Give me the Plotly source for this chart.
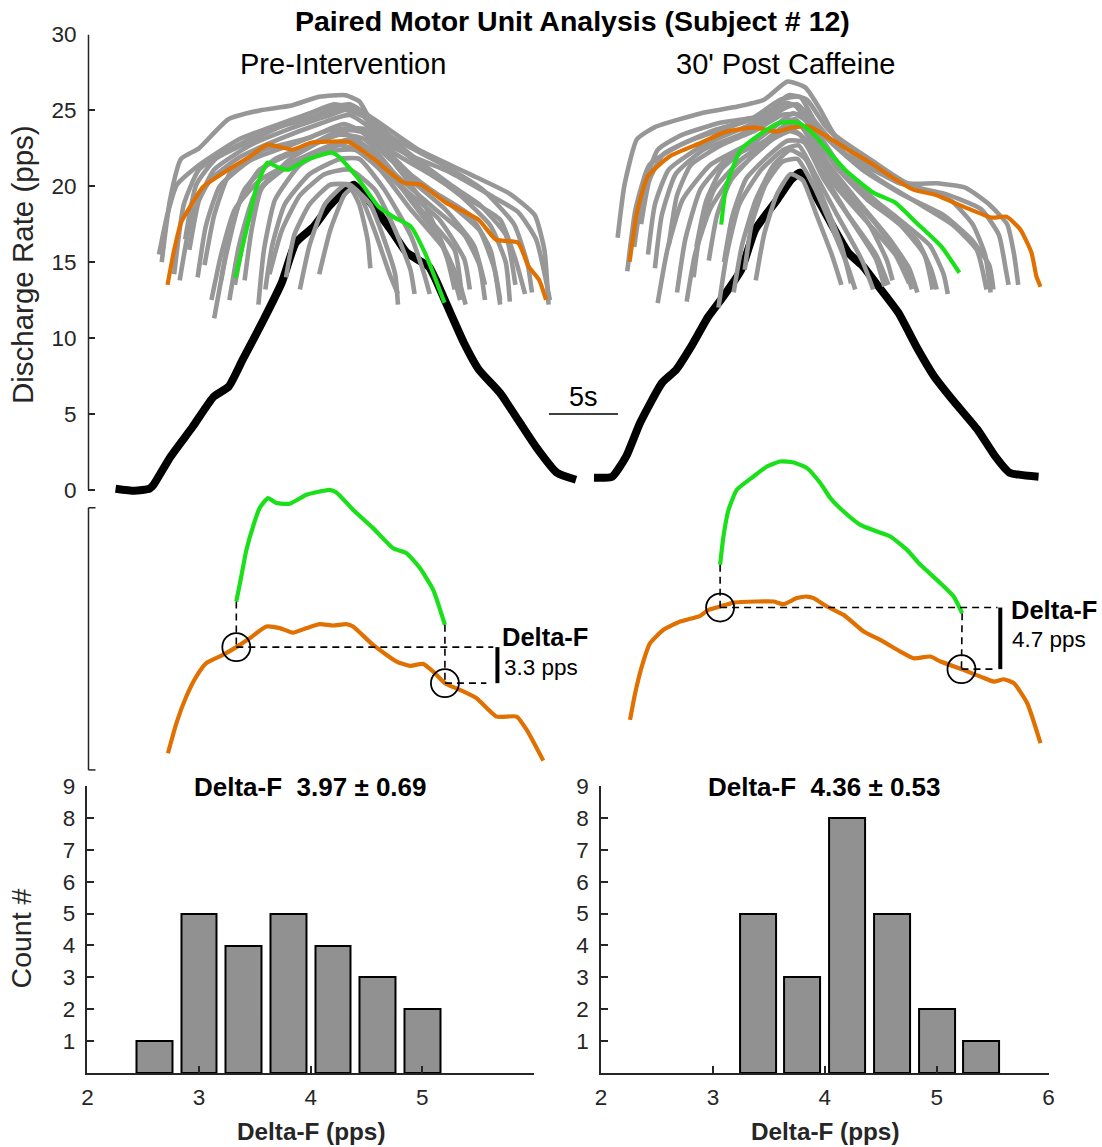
import plotly.graph_objects as go

FONT = "Liberation Sans, Arial, sans-serif"
INK = "#262626"
GRAY = "#979797"
ORANGE = "#E07000"
GREEN = "#19E019"
BAR_FILL = "#919191"

# ---------------- Top panel data: time (s) vs discharge rate (pps) ----------------
PRE_TORQUE_T = [1.96, 3.33, 4.42, 4.71, 5.94, 7.54, 9.06, 10.14, 11.16, 12.68, 13.99, 15.0, 16.3, 17.39,
                18.4, 19.2, 20.43, 22.03, 23.04, 24.64, 25.14, 25.87, 27.17, 28.26, 29.78, 31.09, 32.39,
                33.91, 35.29]
PRE_TORQUE_V = [0.07, -0.07, 0.07, 0.33, 2.18, 4.15, 6.13, 6.79, 8.57, 11.21, 13.65, 16.28, 17.34, 18.66,
                19.58, 20.1, 18.92, 16.94, 15.62, 14.7, 13.84, 12.33, 9.69, 7.91, 6.39, 4.61, 2.83,
                1.12, 0.66]
POST_TORQUE_T = [36.59, 37.9, 38.91, 39.93, 41.52, 42.54, 43.62, 44.86, 45.94, 47.25, 48.26, 49.86, 50.87,
                 51.52, 52.39, 53.48, 55.0, 56.09, 56.81, 58.62, 59.93, 61.23, 62.54, 64.35, 65.65, 66.67,
                 68.77]
POST_TORQUE_V = [0.79, 0.86, 2.18, 4.42, 7.05, 7.91, 9.43, 11.4, 12.72, 14.5, 17.14, 19.12, 20.44,
                 20.9, 19.78, 18.0, 15.62, 14.7, 13.84, 11.67, 9.43, 7.45, 5.93, 3.96, 2.18, 1.12,
                 0.86]

PRE_TEST_T = [5.72, 6.2, 6.7, 7.54, 8.3, 10.12, 11.67, 12.97, 14.78, 16.09, 17.36, 18.77, 19.42, 20.72,
              22.8, 24.06, 25.87, 28.23, 29.49, 31.09, 31.86, 32.61, 33.12]
PRE_TEST_V = [13.5, 15.8, 17.6, 18.92, 19.97, 21.09, 21.95, 22.74, 22.41, 22.87, 22.94, 22.94, 22.61, 21.75,
              20.24, 20.11, 18.92, 17.8, 16.48, 16.28, 14.7, 13.84, 12.52]
PRE_REF_T = [10.63, 11.38, 12.17, 12.97, 13.74, 14.49, 15.8, 17.61, 18.12, 19.42, 20.99, 22.03, 23.33,
             24.35, 25.14, 25.77]
PRE_REF_V = [13.96, 16.94, 19.97, 21.56, 21.23, 21.09, 21.75, 22.21, 21.95, 20.63, 18.66, 18.0, 17.34,
             15.62, 13.84, 12.33]
POST_TEST_T = [39.17, 39.7, 40.47, 42.03, 44.35, 46.16, 48.26, 49.83, 50.87, 52.17, 53.46, 55.0, 56.57,
               58.12, 59.7, 61.23, 63.33, 65.41, 66.45, 67.46, 68.26, 68.62, 68.91]
POST_TEST_V = [15.03, 18.26, 20.63, 21.95, 22.87, 23.6, 23.86, 23.6, 23.86, 23.93, 23.27, 22.41, 21.56,
               20.63, 19.78, 19.45, 18.66, 17.93, 18.0, 17.14, 15.62, 14.04, 13.38]
POST_REF_T = [45.8, 46.16, 47.22, 48.77, 50.07, 51.38, 52.39, 53.46, 54.76, 56.81, 58.41, 59.93, 61.74, 63.04]
POST_REF_V = [17.47, 19.97, 22.41, 23.53, 24.19, 24.19, 23.53, 22.41, 21.09, 19.58, 18.92, 17.6, 16.02, 14.3]

# other motor units (time s, rate pps)
PRE_MU_01 = [(5.3, 15.0), (5.9, 19.1), (6.7, 21.8), (8.0, 22.5), (10.1, 24.4), (12.4, 25.0), (14.6, 25.3), (16.7, 25.9), (18.6, 26.0), (19.6, 25.6), (20.5, 24.2), (22.0, 22.6), (23.6, 21.9), (26.2, 20.9), (29.3, 19.3), (31.1, 18.3), (32.4, 16.5), (33.4, 12.5)]
PRE_MU_02 = [(6.2, 14.2), (6.9, 18.8), (8.0, 21.1), (10.2, 22.4), (13.1, 23.7), (16.0, 24.5), (18.2, 25.1), (19.9, 24.6), (21.8, 22.4), (24.7, 20.8), (27.6, 19.1), (29.8, 17.8), (30.9, 15.2), (31.6, 12.9)]
PRE_MU_03 = [(6.6, 13.8), (7.5, 18.1), (8.8, 20.4), (10.9, 21.9), (13.8, 23.1), (16.7, 24.1), (18.9, 24.7), (21.1, 23.4), (24.0, 21.4), (26.9, 19.4), (29.1, 17.4), (30.2, 15.0), (30.5, 12.4)]
PRE_MU_04 = [(7.9, 14.0), (8.5, 17.4), (9.5, 20.0), (11.7, 21.7), (14.6, 22.7), (17.5, 23.7), (19.6, 23.7), (21.8, 21.8), (24.7, 19.8), (27.6, 18.1), (29.1, 15.8), (29.8, 12.2)]
PRE_MU_05 = [(9.1, 11.3), (9.9, 15.2), (11.0, 19.1), (12.4, 21.1), (15.3, 22.4), (18.2, 23.4), (20.0, 23.1), (22.2, 20.8), (24.7, 18.8), (27.2, 16.8), (28.3, 14.8), (28.7, 12.5)]
PRE_MU_06 = [(10.2, 12.5), (10.9, 16.1), (12.0, 19.4), (13.8, 21.1), (16.7, 22.4), (18.9, 23.1), (20.7, 22.1), (22.9, 19.8), (25.4, 17.8), (27.2, 15.2), (27.6, 13.2)]
PRE_MU_07 = [(12.3, 12.2), (12.7, 15.8), (13.5, 19.1), (15.3, 21.4), (17.5, 22.5), (19.3, 23.1), (21.1, 21.8), (23.3, 19.1), (25.4, 16.5), (26.5, 13.8), (26.9, 12.5)]
PRE_MU_08 = [(11.3, 13.8), (11.8, 17.1), (12.5, 19.8), (14.6, 21.8), (17.1, 23.1), (18.9, 23.7), (20.4, 23.4), (22.5, 21.1), (24.3, 18.8), (25.8, 15.8), (26.5, 13.2)]
PRE_MU_09 = [(14.3, 14.0), (14.9, 16.8), (16.0, 18.8), (17.5, 20.1), (18.9, 20.1), (20.4, 18.8), (21.4, 16.5), (22.2, 14.2), (22.4, 12.2)]
PRE_MU_10 = [(15.3, 13.2), (16.0, 16.1), (17.1, 18.8), (18.6, 20.1), (19.6, 19.5), (20.7, 17.1), (21.8, 14.2), (22.4, 12.9)]
PRE_MU_11 = [(16.7, 14.2), (17.5, 17.1), (18.5, 19.4), (19.0, 19.8), (19.6, 18.8), (20.2, 16.5), (20.4, 14.6)]
PRE_MU_12 = [(13.1, 14.2), (14.0, 17.1), (15.3, 19.4), (17.1, 20.8), (18.9, 21.1), (20.7, 19.8), (22.2, 17.1), (23.3, 14.5), (23.6, 12.9)]
PRE_MU_13 = [(7.3, 15.8), (8.0, 19.1), (9.1, 21.1), (11.7, 22.7), (14.6, 23.8), (17.5, 24.7), (19.3, 25.2), (20.7, 24.1), (23.3, 22.1), (26.2, 20.1), (28.3, 18.8), (30.2, 16.8), (30.9, 13.5)]
PRE_MU_14 = [(8.4, 14.8), (9.1, 18.1), (10.2, 20.8), (12.7, 22.4), (16.0, 23.2), (18.5, 24.1), (20.7, 23.1), (23.3, 20.8), (26.2, 18.8), (28.3, 17.1), (29.4, 14.5), (29.8, 12.5)]
PRE_MU_15 = [(9.6, 13.8), (10.2, 16.8), (11.3, 19.8), (13.5, 21.8), (16.0, 22.7), (18.5, 23.8), (20.4, 23.7), (22.5, 21.1), (25.8, 18.5), (27.9, 16.1), (28.7, 13.5)]
PRE_MU_16 = [(10.6, 13.5), (11.3, 16.8), (12.4, 19.8), (14.6, 21.4), (17.5, 22.3), (19.3, 22.4), (21.1, 21.1), (23.3, 18.5), (25.8, 15.8), (26.9, 13.5), (27.3, 12.2)]
PRE_MU_17 = [(5.1, 15.5), (5.7, 18.1), (6.4, 20.1), (8.0, 21.4), (10.9, 23.1), (13.8, 24.1), (16.7, 25.0), (18.9, 25.4), (20.7, 24.4), (23.9, 22.4), (27.6, 20.8), (30.5, 19.5), (32.3, 18.1), (33.0, 15.8), (33.3, 12.2)]
PRE_MU_18 = [(12.8, 13.2), (13.3, 16.1), (14.2, 18.8), (16.0, 20.8), (18.2, 21.8), (19.6, 21.8), (21.4, 19.8), (23.3, 16.8), (24.3, 14.2), (24.7, 12.9)]
PRE_MU_19 = [(7.0, 16.5), (7.8, 20.1), (9.2, 21.8), (12.0, 23.1), (15.0, 24.4), (17.8, 25.4), (19.8, 24.9), (22.0, 23.2), (25.5, 21.5), (28.5, 19.8), (30.8, 17.5), (31.8, 14.8), (32.1, 13.0)]
PRE_MU_20 = [(8.9, 12.5), (9.6, 15.5), (10.6, 18.5), (12.4, 20.4), (15.3, 21.8), (18.2, 22.7), (19.9, 22.2), (22.0, 20.5), (24.5, 18.0), (26.5, 15.8), (27.0, 13.0)]

POST_MU_01 = [(38.3, 16.6), (38.8, 20.1), (39.7, 23.1), (41.0, 23.9), (44.3, 24.8), (46.7, 25.2), (48.9, 25.7), (50.6, 26.9), (51.9, 26.5), (53.0, 25.0), (54.0, 23.4), (56.7, 21.7), (59.3, 20.2), (61.4, 20.2), (63.5, 19.9), (65.2, 18.8), (66.5, 17.5), (67.0, 15.5), (67.3, 13.5)]
POST_MU_02 = [(39.0, 14.4), (39.6, 18.5), (40.6, 21.4), (42.8, 22.7), (45.3, 23.7), (47.9, 24.4), (50.1, 25.7), (51.5, 25.9), (52.5, 24.4), (54.4, 22.4), (57.3, 20.4), (60.2, 18.8), (62.5, 17.5), (64.3, 15.8), (65.0, 13.2)]
POST_MU_03 = [(41.0, 14.6), (41.5, 18.1), (42.5, 20.8), (44.5, 22.4), (47.2, 23.4), (49.6, 24.7), (51.0, 25.4), (52.2, 24.1), (54.0, 21.4), (56.4, 19.1), (58.7, 17.5), (60.5, 15.5), (61.1, 13.2)]
POST_MU_04 = [(41.2, 12.3), (41.9, 15.8), (43.0, 19.1), (45.0, 21.4), (47.6, 22.7), (49.8, 24.1), (51.2, 24.4), (52.7, 22.4), (54.8, 19.8), (57.0, 17.5), (58.9, 15.2), (59.6, 13.2)]
POST_MU_05 = [(43.3, 12.4), (43.9, 15.5), (45.0, 18.5), (46.7, 20.8), (48.6, 22.4), (50.3, 23.7), (51.5, 23.4), (53.0, 21.1), (55.0, 18.1), (57.0, 15.5), (57.9, 13.5)]
POST_MU_06 = [(46.7, 13.0), (47.3, 16.1), (48.3, 19.1), (49.6, 21.4), (50.8, 22.4), (51.9, 21.8), (53.2, 19.1), (54.5, 16.1), (55.2, 13.6)]
POST_MU_07 = [(48.3, 13.8), (48.9, 16.8), (49.8, 19.4), (50.8, 20.8), (51.7, 20.4), (52.7, 18.1), (53.8, 15.5), (54.5, 13.5)]
POST_MU_08 = [(44.9, 15.1), (45.5, 18.1), (46.5, 20.4), (48.2, 22.1), (49.9, 23.4), (51.1, 24.4), (52.4, 23.1), (54.3, 20.1), (56.5, 17.5), (57.8, 15.1), (58.2, 13.8)]
POST_MU_09 = [(40.0, 17.5), (40.6, 20.4), (41.6, 22.1), (43.8, 23.1), (46.4, 23.9), (48.8, 24.7), (50.5, 25.5), (51.8, 25.0), (53.5, 23.1), (56.0, 21.1), (59.0, 19.4), (61.9, 18.1), (63.9, 16.5), (65.2, 14.8), (65.5, 13.2)]
POST_MU_10 = [(42.0, 16.1), (42.6, 19.4), (43.6, 21.4), (45.8, 22.7), (48.3, 23.7), (50.2, 24.7), (51.6, 24.7), (53.0, 22.7), (55.5, 20.1), (58.3, 18.1), (60.9, 16.1), (61.9, 14.2), (62.2, 12.9)]
POST_MU_11 = [(40.5, 15.5), (41.0, 18.8), (42.0, 21.1), (44.5, 22.7), (47.5, 23.9), (50.0, 25.0), (51.3, 25.4), (52.6, 24.1), (55.0, 22.0), (58.5, 20.3), (61.0, 19.6), (62.5, 19.0), (64.0, 17.5), (64.9, 15.5), (65.3, 13.0)]
POST_MU_12 = [(43.8, 14.0), (44.3, 17.1), (45.3, 19.8), (47.3, 21.8), (49.5, 23.1), (51.0, 23.7), (52.3, 22.7), (54.0, 20.1), (56.5, 17.5), (58.4, 15.5), (59.4, 13.6)]
POST_MU_13 = [(45.6, 12.0), (46.2, 15.5), (47.1, 18.8), (48.7, 21.1), (50.3, 22.4), (51.4, 22.7), (52.6, 20.8), (54.2, 18.1), (56.0, 15.1), (56.8, 13.2)]
POST_MU_14 = [(47.5, 14.5), (48.0, 17.5), (49.0, 20.1), (50.2, 21.6), (51.3, 21.8), (52.5, 20.0), (53.9, 17.1), (55.0, 14.6), (55.5, 13.2)]
POST_MU_15 = [(42.6, 13.0), (43.2, 16.5), (44.3, 19.8), (46.2, 21.8), (48.8, 22.9), (50.6, 24.1), (51.9, 23.9), (53.6, 21.4), (55.9, 18.8), (58.0, 16.5), (59.4, 14.6), (60.0, 13.0)]
POST_MU_16 = [(39.5, 16.0), (40.1, 19.5), (41.2, 22.4), (43.0, 23.4), (45.8, 24.2), (48.5, 24.6), (50.7, 26.0), (52.0, 25.7), (53.3, 24.0), (55.5, 22.0), (58.7, 20.2), (62.0, 19.5), (64.6, 18.5), (65.9, 16.8), (66.4, 14.5), (66.6, 13.5)]
POST_MU_17 = [(44.0, 16.0), (44.7, 19.0), (45.8, 21.1), (47.6, 22.5), (49.5, 23.8), (51.0, 24.8), (52.4, 24.0), (54.5, 21.2), (57.5, 18.6), (60.0, 16.4), (61.0, 14.5), (61.4, 13.2)]
POST_MU_18 = [(46.0, 15.0), (46.6, 18.0), (47.6, 20.5), (49.2, 22.0), (50.6, 23.0), (51.8, 22.9), (53.2, 20.5), (55.4, 17.5), (57.0, 15.2), (57.6, 13.4)]

PRE_UNITS = [PRE_MU_01, PRE_MU_02, PRE_MU_03, PRE_MU_04, PRE_MU_05, PRE_MU_06, PRE_MU_07, PRE_MU_08,
             PRE_MU_09, PRE_MU_10, PRE_MU_11, PRE_MU_12, PRE_MU_13, PRE_MU_14, PRE_MU_15, PRE_MU_16,
             PRE_MU_17, PRE_MU_18, PRE_MU_19, PRE_MU_20]
POST_UNITS = [POST_MU_01, POST_MU_02, POST_MU_03, POST_MU_04, POST_MU_05, POST_MU_06, POST_MU_07,
              POST_MU_08, POST_MU_09, POST_MU_10, POST_MU_11, POST_MU_12, POST_MU_13, POST_MU_14,
              POST_MU_15, POST_MU_16, POST_MU_17, POST_MU_18]

# ---------------- Middle panel (Delta-F illustration, arbitrary rate offset) ----------------
PRE_DF_TEST_T = [5.75, 6.36, 7.08, 7.80, 8.53, 9.73, 10.70, 11.67, 12.88, 13.84, 14.80, 15.78, 16.74, 17.70,
                 18.67, 19.15, 20.60, 22.30, 23.26, 24.22, 24.95, 25.80, 26.88, 28.09, 29.54, 30.99, 31.72,
                 32.92]
PRE_DF_TEST_V = [1.27, 3.56, 5.60, 7.12, 8.15, 8.78, 9.37, 10.05, 10.94, 10.82, 10.48, 10.82, 11.12, 11.02,
                 11.12, 10.94, 9.54, 8.27, 7.94, 8.09, 7.50, 6.62, 6.11, 5.47, 4.07, 4.07, 3.05, 0.71]
PRE_DF_REF_T = [10.70, 11.06, 11.43, 11.91, 12.39, 12.99, 13.60, 14.57, 15.78, 16.74, 17.46, 17.95, 19.15,
                20.60, 22.05, 23.02, 23.99, 24.95, 25.80]
PRE_DF_REF_V = [12.85, 14.76, 16.79, 18.57, 19.98, 20.74, 20.36, 20.31, 20.99, 21.24, 21.37, 21.17, 19.85,
                18.45, 16.92, 16.54, 15.40, 13.74, 11.07]
POST_DF_TEST_T = [39.20, 39.57, 40.05, 40.65, 41.62, 42.83, 44.28, 44.88, 45.72, 46.69, 48.38, 49.59, 50.31,
                  51.28, 52.01, 52.49, 53.46, 54.66, 56.11, 57.32, 58.77, 59.73, 60.94, 61.67, 63.19, 64.57,
                  65.53, 66.25, 66.98, 67.95, 68.91]
POST_DF_TEST_V = [3.82, 5.85, 7.89, 9.67, 10.69, 11.32, 11.76, 12.21, 12.47, 12.77, 12.85, 12.85, 12.65,
                  13.11, 13.23, 13.11, 12.47, 11.83, 10.56, 9.92, 9.03, 8.52, 8.65, 8.27, 7.69, 7.12,
                  6.74, 6.92, 6.62, 5.09, 2.04]
POST_DF_REF_T = [45.72, 45.96, 46.33, 46.93, 48.14, 49.11, 50.07, 51.04, 52.01, 52.97, 53.70, 54.66, 55.87,
                 57.08, 58.04, 59.25, 60.22, 61.67, 62.63, 63.24]
POST_DF_REF_V = [15.65, 17.81, 19.85, 21.37, 22.39, 23.15, 23.53, 23.46, 23.03, 21.89, 20.74, 19.72, 18.70,
                 18.19, 17.81, 16.79, 15.65, 14.25, 13.23, 11.96]

# test-unit rate at reference onset / offset
PRE_MARK_T = [10.70, 25.80]
PRE_MARK_V = [9.37, 6.62]
POST_MARK_T = [45.72, 63.19]
POST_MARK_V = [12.39, 7.69]
PRE_GUIDE_END = [29.3, 28.8]
POST_GUIDE_END = [65.8, 65.5]
PRE_BAR_T = 29.6
POST_BAR_T = 66.0
PRE_DELTA_LABEL = "3.3 pps"
POST_DELTA_LABEL = "4.7 pps"

# ---------------- Histograms ----------------
PRE_BIN_CENTERS = [2.6, 3.0, 3.4, 3.8, 4.2, 4.6, 5.0]
PRE_COUNTS = [1, 5, 4, 5, 4, 3, 2]
POST_BIN_CENTERS = [3.4, 3.8, 4.2, 4.6, 5.0, 5.4]
POST_COUNTS = [5, 3, 8, 5, 2, 1]
PRE_STATS = "Delta-F\u00a0\u00a03.97 ± 0.69"
POST_STATS = "Delta-F\u00a0\u00a04.36 ± 0.53"
HIST_X_TICKS = [2, 3, 4, 5, 6]
PRE_X_TICKTEXT = ["2", "3", "4", "5", ""]
POST_X_TICKTEXT = ["2", "3", "4", "5", "6"]
COUNT_TICKS = [1, 2, 3, 4, 5, 6, 7, 8, 9]
RATE_TICKS = [0, 5, 10, 15, 20, 25, 30]

SCALE_BAR_START = 33.33
SCALE_BAR_LEN = 5.0
SCALE_BAR_LEVEL = 5.0

W, H = 1102, 1147


# layout helpers: target pixel position -> paper fraction (compensates the observed page scaling)
def PX(x):
    return (x - 6.6) / 0.988 / W


def PY(y):
    return 1 - (y - 12.5) / 0.989 / H


fig = go.Figure()


def add_line(t, v, color, width, yaxis="y", xaxis="x", dash=None, spline=True):
    fig.add_trace(go.Scatter(
        x=t, y=v, mode="lines", xaxis=xaxis, yaxis=yaxis,
        line=dict(color=color, width=width, dash=dash,
                  shape="spline" if spline else "linear", smoothing=0.5),
        hoverinfo="skip", showlegend=False))


# top panel
add_line(PRE_TORQUE_T, PRE_TORQUE_V, "black", 8)
add_line(POST_TORQUE_T, POST_TORQUE_V, "black", 8)
for unit in PRE_UNITS + POST_UNITS:
    add_line([p[0] for p in unit], [p[1] for p in unit], GRAY, 4.6)
add_line(PRE_TEST_T, PRE_TEST_V, ORANGE, 4.2)
add_line(POST_TEST_T, POST_TEST_V, ORANGE, 4.2)
add_line(PRE_REF_T, PRE_REF_V, GREEN, 4.2)
add_line(POST_REF_T, POST_REF_V, GREEN, 4.2)

# middle panel
DASH = "7px,5px"
for test_t, test_v, ref_t, ref_v, mk_t, mk_v, gend, bar_t in [
        (PRE_DF_TEST_T, PRE_DF_TEST_V, PRE_DF_REF_T, PRE_DF_REF_V, PRE_MARK_T, PRE_MARK_V, PRE_GUIDE_END, PRE_BAR_T),
        (POST_DF_TEST_T, POST_DF_TEST_V, POST_DF_REF_T, POST_DF_REF_V, POST_MARK_T, POST_MARK_V, POST_GUIDE_END, POST_BAR_T)]:
    add_line(test_t, test_v, ORANGE, 4.2, yaxis="y2")
    add_line(ref_t, ref_v, GREEN, 4.2, yaxis="y2")
    add_line([ref_t[0], mk_t[0]], [ref_v[0], mk_v[0]], "black", 1.6, yaxis="y2", dash=DASH, spline=False)
    add_line([ref_t[-1], mk_t[1]], [ref_v[-1], mk_v[1]], "black", 1.6, yaxis="y2", dash=DASH, spline=False)
    add_line([mk_t[0], gend[0]], [mk_v[0], mk_v[0]], "black", 1.6, yaxis="y2", dash=DASH, spline=False)
    add_line([mk_t[1], gend[1]], [mk_v[1], mk_v[1]], "black", 1.6, yaxis="y2", dash=DASH, spline=False)
    add_line([bar_t, bar_t], [mk_v[0], mk_v[1]], "black", 4, yaxis="y2", spline=False)
    fig.add_trace(go.Scatter(
        x=mk_t, y=mk_v, mode="markers", yaxis="y2",
        marker=dict(symbol="circle-open", size=28, color="black", line=dict(width=1.8)),
        hoverinfo="skip", showlegend=False))

# histograms
for xa, ya, centers, counts in [("x2", "y3", PRE_BIN_CENTERS, PRE_COUNTS),
                                ("x3", "y4", POST_BIN_CENTERS, POST_COUNTS)]:
    fig.add_trace(go.Bar(x=centers, y=counts, width=0.32, xaxis=xa, yaxis=ya,
                         marker=dict(color=BAR_FILL, line=dict(color="black", width=2)),
                         hoverinfo="skip", showlegend=False))

TICKFONT = dict(family=FONT, size=22.5, color=INK)
axis_common = dict(showgrid=False, zeroline=False, ticks="inside", ticklen=7, tickwidth=1.5,
                   tickcolor=INK, tickfont=TICKFONT, linecolor=INK, linewidth=1.5)

TOP_Y0, TOP_Y30 = 490, 35          # target pixel rows of 0 and 30 pps
top_unit = (TOP_Y0 - TOP_Y30) / 30.0
fig.update_layout(
    width=W, height=H, margin=dict(l=0, r=0, t=0, b=0),
    paper_bgcolor="white", plot_bgcolor="rgba(0,0,0,0)",
    showlegend=False, bargap=0,
    font=dict(family=FONT, color=INK),
    xaxis=dict(domain=[PX(89), PX(1050)], range=[0, 69.64], visible=False, anchor="y"),
    yaxis=dict(domain=[PY(TOP_Y0 + top_unit), PY(TOP_Y30)], range=[-1, 30], anchor="x",
               tickvals=RATE_TICKS, showline=False, ticklabelstandoff=11, **axis_common),
    yaxis2=dict(domain=[PY(775), PY(450)], range=[-0.38, 24.43], anchor="x", visible=False),
    xaxis2=dict(domain=[PX(88), PX(534)], range=[2, 6], anchor="y3", tickvals=HIST_X_TICKS,
                ticktext=PRE_X_TICKTEXT, showline=True, ticklabelstandoff=3, **axis_common),
    yaxis3=dict(domain=[PY(1073), PY(786)], range=[0, 9], anchor="x2", tickvals=COUNT_TICKS,
                showline=True, ticklabelstandoff=6, **axis_common),
    xaxis3=dict(domain=[PX(601), PX(1048)], range=[2, 6], anchor="y4", tickvals=HIST_X_TICKS,
                ticktext=POST_X_TICKTEXT, showline=True, ticklabelstandoff=3, **axis_common),
    yaxis4=dict(domain=[PY(1073), PY(786)], range=[0, 9], anchor="x3", tickvals=COUNT_TICKS,
                showline=True, ticklabelstandoff=6, **axis_common),
)

shapes = [
    dict(type="line", xref="paper", yref="y", x0=PX(89), x1=PX(89), y0=0, y1=30,
         line=dict(color=INK, width=1.5)),
    dict(type="line", xref="paper", yref="y2", x0=PX(89), x1=PX(89), y0=0, y1=20,
         line=dict(color=INK, width=1.5)),
    dict(type="line", xref="paper", yref="y2", x0=PX(89), x1=PX(96), y0=0, y1=0,
         line=dict(color=INK, width=1.5)),
    dict(type="line", xref="paper", yref="y2", x0=PX(89), x1=PX(96), y0=20, y1=20,
         line=dict(color=INK, width=1.5)),
    dict(type="line", xref="x", yref="y", x0=SCALE_BAR_START, x1=SCALE_BAR_START + SCALE_BAR_LEN,
         y0=SCALE_BAR_LEVEL, y1=SCALE_BAR_LEVEL, line=dict(color="black", width=1.5)),
]
fig.update_layout(shapes=shapes)


def ann(text, x, y, size, xref="paper", yref="paper", bold=False, angle=0, xanchor="center",
        yanchor="middle", color="black"):
    fig.add_annotation(text=f"<b>{text}</b>" if bold else text, x=x, y=y, xref=xref, yref=yref,
                       showarrow=False, textangle=angle, xanchor=xanchor, yanchor=yanchor,
                       font=dict(family=FONT, size=size, color=color))


ann("Paired Motor Unit Analysis (Subject # 12)", PX(572), PY(21), 28.5, bold=True)
ann("Pre-Intervention", PX(343), PY(64), 29)
ann("30' Post Caffeine", PX(785), PY(64), 29)
ann("Discharge Rate (pps)", PX(23), PY(265), 29.5, angle=-90, color=INK)
ann("Count #", PX(22), PY(938), 28.5, angle=-90, color=INK)
ann(PRE_STATS, PX(311), PY(787), 26, bold=True)
ann(POST_STATS, PX(824.5), PY(787), 26, bold=True)
ann("Delta-F (pps)", PX(311), PY(1131), 24.3, bold=True, color=INK)
ann("Delta-F (pps)", PX(824.5), PY(1131), 24.3, bold=True, color=INK)
ann("5s", SCALE_BAR_START + SCALE_BAR_LEN / 2, SCALE_BAR_LEVEL + 1.1, 27, xref="x", yref="y")
ann("Delta-F", PRE_BAR_T + 0.2, PRE_MARK_V[0] + 0.75, 25.5, xref="x", yref="y2", bold=True, xanchor="left")
ann(PRE_DELTA_LABEL, PRE_BAR_T + 0.3, PRE_MARK_V[0] - 1.55, 22.5, xref="x", yref="y2", xanchor="left")
ann("Delta-F", POST_BAR_T + 0.6, POST_MARK_V[0] - 0.15, 25.5, xref="x", yref="y2", bold=True, xanchor="left")
ann(POST_DELTA_LABEL, POST_BAR_T + 0.7, POST_MARK_V[0] - 2.45, 22.5, xref="x", yref="y2", xanchor="left")

fig.write_html("out.html")
